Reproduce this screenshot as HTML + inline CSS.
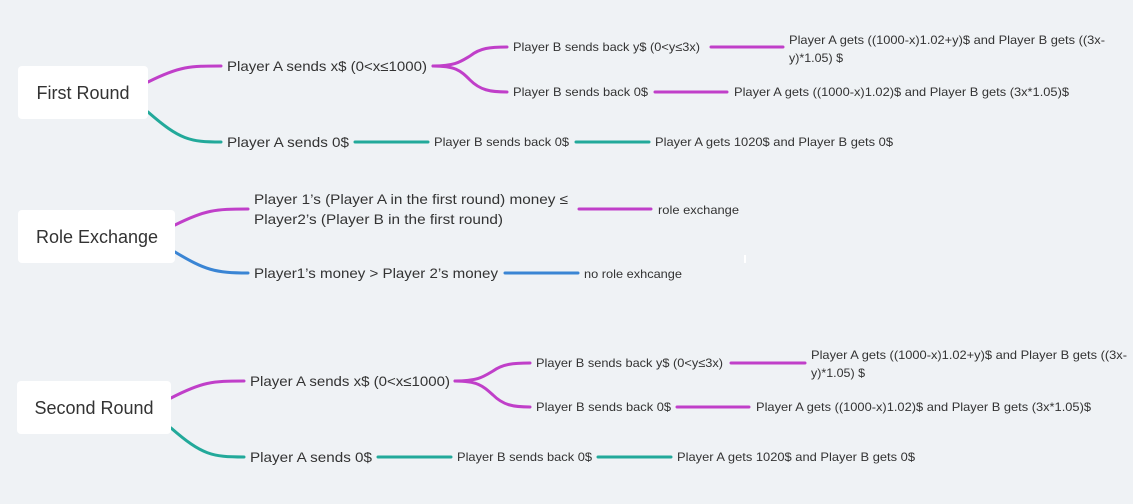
<!DOCTYPE html>
<html><head><meta charset="utf-8"><style>
html,body{margin:0;padding:0;background:#eff2f5;}
svg{display:block;font-family:"Liberation Sans",sans-serif;}
.l1{font-size:14px;fill:#333;}
.l2{font-size:12px;fill:#333;}
.r{font-size:18px;fill:#333;}
.p{stroke:#c03fc9;stroke-width:3;fill:none;stroke-linecap:round}
.t{stroke:#22a99a;stroke-width:3;fill:none;stroke-linecap:round}
.b{stroke:#3a85d4;stroke-width:3;fill:none;stroke-linecap:round}
</style></head><body>
<svg width="1133" height="504" viewBox="0 0 1133 504">
<rect width="1133" height="504" fill="#eff2f5"/>
<!-- First Round -->
<path class="p" d="M148 82 C180 66 190 66 221 66"/>
<path class="t" d="M148 112 C180 140 190 142 221 142"/>
<path class="p" d="M433 66 C455 66 460 62 470 56 C480 48 490 47 507 47"/>
<path class="p" d="M433 66 C455 66 460 70 470 80 C480 90 490 92 507 92"/>
<path class="p" d="M711 47 L783 47"/>
<path class="p" d="M655 92 L727 92"/>
<path class="t" d="M355 142 L428 142"/>
<path class="t" d="M576 142 L649 142"/>
<rect x="18" y="66" width="130" height="53" rx="4" fill="#fff"/>
<text class="r" x="83" y="99" text-anchor="middle">First Round</text>
<text class="l1" x="227" y="71" textLength="200" lengthAdjust="spacingAndGlyphs">Player A sends x$ (0&lt;x≤1000)</text>
<text class="l1" x="227" y="147" textLength="122" lengthAdjust="spacingAndGlyphs">Player A sends 0$</text>
<text class="l2" x="513" y="51" textLength="187" lengthAdjust="spacingAndGlyphs">Player B sends back y$ (0&lt;y≤3x)</text>
<text class="l2" x="513" y="96" textLength="135" lengthAdjust="spacingAndGlyphs">Player B sends back 0$</text>
<text class="l2" x="789" y="44" textLength="316" lengthAdjust="spacingAndGlyphs">Player A gets ((1000-x)1.02+y)$ and Player B gets ((3x-</text>
<text class="l2" x="789" y="62" textLength="54" lengthAdjust="spacingAndGlyphs">y)*1.05) $</text>
<text class="l2" x="734" y="96" textLength="335" lengthAdjust="spacingAndGlyphs">Player A gets ((1000-x)1.02)$ and Player B gets (3x*1.05)$</text>
<text class="l2" x="434" y="146" textLength="135" lengthAdjust="spacingAndGlyphs">Player B sends back 0$</text>
<text class="l2" x="655" y="146" textLength="238" lengthAdjust="spacingAndGlyphs">Player A gets 1020$ and Player B gets 0$</text>
<!-- Role Exchange -->
<path class="p" d="M175 225 C205 210 215 209 248 209"/>
<path class="b" d="M175 252 C205 270 215 273 248 273"/>
<path class="p" d="M579 209 L651 209"/>
<path class="b" d="M505 273 L578 273"/>
<rect x="18" y="210" width="157" height="53" rx="4" fill="#fff"/>
<text class="r" x="97" y="243" text-anchor="middle">Role Exchange</text>
<text class="l1" x="254" y="204" textLength="314" lengthAdjust="spacingAndGlyphs">Player 1’s (Player A in the first round) money ≤</text>
<text class="l1" x="254" y="224" textLength="249" lengthAdjust="spacingAndGlyphs">Player2’s (Player B in the first round)</text>
<text class="l2" x="658" y="214" textLength="81" lengthAdjust="spacingAndGlyphs">role exchange</text>
<text class="l1" x="254" y="278" textLength="244" lengthAdjust="spacingAndGlyphs">Player1’s money &gt; Player 2’s money</text>
<text class="l2" x="584" y="278" textLength="98" lengthAdjust="spacingAndGlyphs">no role exhcange</text>
<rect x="744" y="255" width="2" height="8" fill="#fff"/>
<!-- Second Round -->
<path class="p" d="M171 398 C202 382 212 381 244 381"/>
<path class="t" d="M171 428 C202 455 212 457 244 457"/>
<path class="p" d="M455 381 C478 381 483 377 493 371 C503 364 513 363 530 363"/>
<path class="p" d="M455 381 C478 381 483 386 493 395 C503 405 513 407 530 407"/>
<path class="p" d="M731 363 L805 363"/>
<path class="p" d="M677 407 L749 407"/>
<path class="t" d="M378 457 L451 457"/>
<path class="t" d="M598 457 L671 457"/>
<rect x="17" y="381" width="154" height="53" rx="4" fill="#fff"/>
<text class="r" x="94" y="414" text-anchor="middle">Second Round</text>
<text class="l1" x="250" y="386" textLength="200" lengthAdjust="spacingAndGlyphs">Player A sends x$ (0&lt;x≤1000)</text>
<text class="l1" x="250" y="462" textLength="122" lengthAdjust="spacingAndGlyphs">Player A sends 0$</text>
<text class="l2" x="536" y="367" textLength="187" lengthAdjust="spacingAndGlyphs">Player B sends back y$ (0&lt;y≤3x)</text>
<text class="l2" x="536" y="411" textLength="135" lengthAdjust="spacingAndGlyphs">Player B sends back 0$</text>
<text class="l2" x="811" y="359" textLength="316" lengthAdjust="spacingAndGlyphs">Player A gets ((1000-x)1.02+y)$ and Player B gets ((3x-</text>
<text class="l2" x="811" y="377" textLength="54" lengthAdjust="spacingAndGlyphs">y)*1.05) $</text>
<text class="l2" x="756" y="411" textLength="335" lengthAdjust="spacingAndGlyphs">Player A gets ((1000-x)1.02)$ and Player B gets (3x*1.05)$</text>
<text class="l2" x="457" y="461" textLength="135" lengthAdjust="spacingAndGlyphs">Player B sends back 0$</text>
<text class="l2" x="677" y="461" textLength="238" lengthAdjust="spacingAndGlyphs">Player A gets 1020$ and Player B gets 0$</text>
</svg>
</body></html>
